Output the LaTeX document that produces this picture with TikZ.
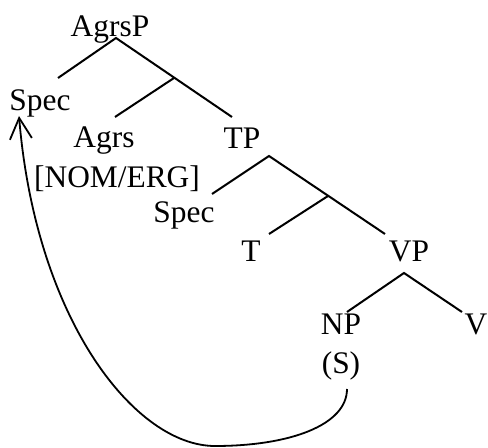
\documentclass[tikz,border=0pt]{standalone}
\usepackage{fontspec}
\setmainfont{Liberation Serif}
\usetikzlibrary{arrows.meta}
\begin{document}
\begin{tikzpicture}[x=0.5pt,y=-0.5pt,
  lbl/.style={anchor=base,inner sep=0pt,font=\fontsize{15.7}{18}\selectfont},
  branch/.style={line width=1pt},
  mv/.style={line width=0.9pt,-{Straight Barb[length=10.5pt,width=11pt,line width=0.9pt]}}]
\useasboundingbox (0,0) rectangle (488,448);
% labels
\node[lbl] (agrsp) at (110,37) {AgrsP};
\node[lbl] (spec1) at (40,111) {Spec};
\node[lbl] (agrs) at (104,148) {Agrs};
\node[lbl] (nomerg) at (117,188) {[NOM/ERG]};
\node[lbl] (tp) at (242,149) {TP};
\node[lbl] (spec2) at (184,223) {Spec};
\node[lbl] (t) at (251,262) {T};
\node[lbl] (vp) at (409,262) {VP};
\node[lbl] (np) at (341,335) {NP};
\node[lbl] (s) at (341,374) {(S)};
\node[lbl] (v) at (476,335) {V};
% branch points
\coordinate (a0) at (116,38);
\coordinate (aL) at (58,78);
\coordinate (aM) at (174,78);
\coordinate (aR) at (232,117);
\coordinate (aML) at (115,117);
\coordinate (t0) at (269,156);
\coordinate (tL) at (212,194);
\coordinate (tM) at (328,196);
\coordinate (tR) at (385,234);
\coordinate (tML) at (269,234);
\coordinate (v0) at (404,273);
\coordinate (vL) at (347,312);
\coordinate (vR) at (462,312);
\coordinate (mvS) at (347,389);
\coordinate (mvB) at (215,446);
\coordinate (mvE) at (19,116);
\draw[branch] (aL) -- (a0) -- (aR);
\draw[branch] (aM) -- (aML);
\draw[branch] (tL) -- (t0) -- (tR);
\draw[branch] (tM) -- (tML);
\draw[branch] (vL) -- (v0) -- (vR);
\draw[mv] (mvS) .. controls (347,425) and (290,446) .. (mvB)
  .. controls (135,446) and (36,320) .. (mvE);
\end{tikzpicture}
\end{document}
